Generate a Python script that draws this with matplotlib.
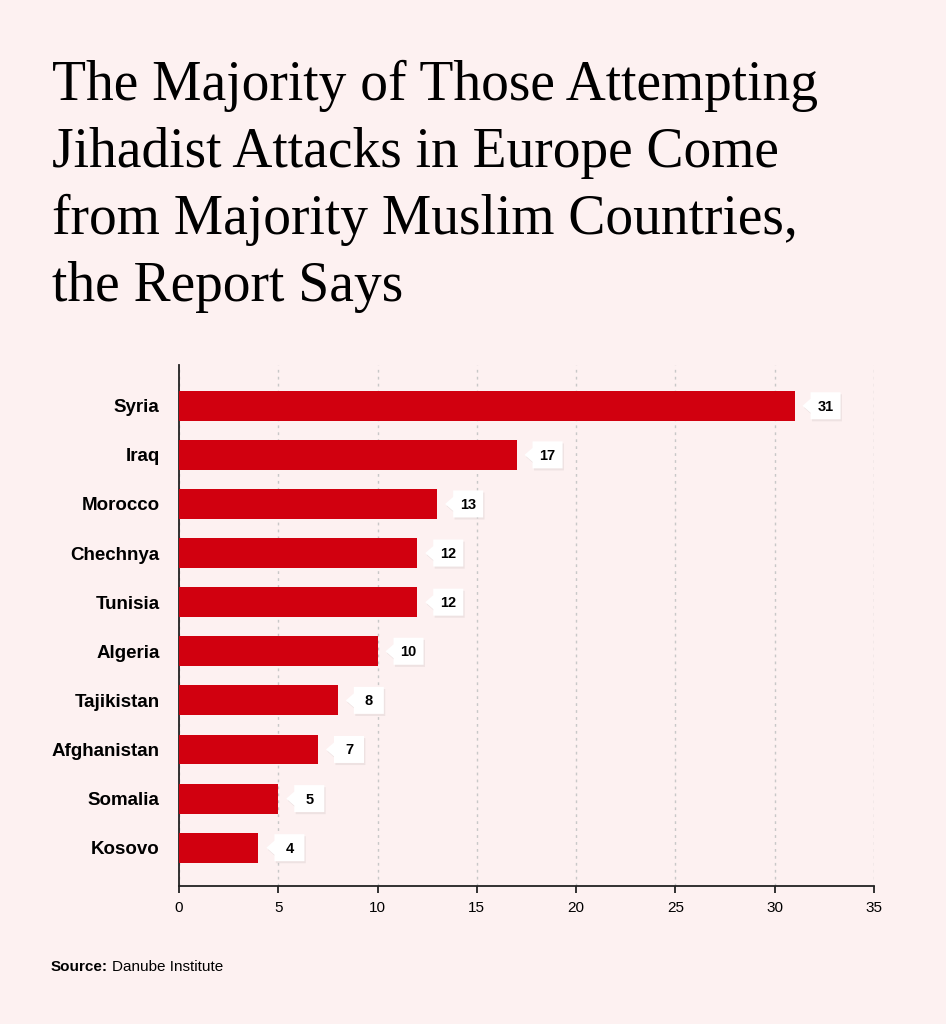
import matplotlib.pyplot as plt
from matplotlib.patches import Polygon
from matplotlib.offsetbox import AnnotationBbox, DrawingArea

countries = ['Syria', 'Iraq', 'Morocco', 'Chechnya', 'Tunisia', 'Algeria',
             'Tajikistan', 'Afghanistan', 'Somalia', 'Kosovo']
attackers = [31, 17, 13, 12, 12, 10, 8, 7, 5, 4]
xticks = [0, 5, 10, 15, 20, 25, 30, 35]

title = ('The Majority of Those Attempting\nJihadist Attacks in Europe Come\n'
         'from Majority Muslim Countries,\nthe Report Says')

bg = '#FDF1F1'
red = '#D1000F'

fig = plt.figure(figsize=(9.46, 10.24), dpi=100, facecolor=bg)
W, H = 946, 1024
ax = fig.add_axes([179 / W, 1 - 886 / H, (874 - 179) / W, (886 - 365) / H])
ax.set_facecolor(bg)

ypos = list(range(len(countries)))
ax.barh(ypos, attackers, height=0.61, color=red, zorder=3)

ax.set_xlim(0, 35)
ax.set_ylim(9.78, -0.83)
ax.set_xticks(xticks)
ax.set_xticklabels([str(t) for t in xticks], fontsize=11, family='Liberation Sans')
ax.set_yticks(ypos)
ax.set_yticklabels(countries, fontsize=13.5, fontweight='bold', family='Liberation Sans')
ax.tick_params(axis='y', length=0, pad=14)
ax.tick_params(axis='x', length=5, width=1.3, color='#222222', pad=6)
for s in ['top', 'right']:
    ax.spines[s].set_visible(False)
for s in ['left', 'bottom']:
    ax.spines[s].set_linewidth(1.3)
    ax.spines[s].set_color('#222222')
ax.grid(axis='x', linestyle=(0, (2, 3)), color='#c8c8c8', linewidth=1, zorder=0)

# value callouts: white box with small arrow pointing at the bar end
k = 72 / 100  # pixels -> points
bw, bh, tip = 30 * k, 27 * k, 8 * k
for y, v in zip(ypos, attackers):
    da = DrawingArea(bw + tip, bh, 0, 0)
    pts = [(0, bh / 2), (tip, bh / 2 + 7 * k), (tip, bh), (tip + bw, bh),
           (tip + bw, 0), (tip, 0), (tip, bh / 2 - 7 * k)]
    shadow = Polygon([(px + 1, py - 1.5) for px, py in pts], closed=True,
                     fc='#000000', alpha=0.06, ec='none')
    box = Polygon(pts, closed=True, fc='white', ec='none')
    da.add_artist(shadow)
    da.add_artist(box)
    ab = AnnotationBbox(da, (v, y), xybox=(8, 0), xycoords='data',
                        boxcoords='offset pixels', box_alignment=(0, 0.5),
                        frameon=False, pad=0, zorder=5)
    ax.add_artist(ab)
    ax.annotate(str(v), xy=(v, y), xytext=(8 + 8 + 15, -1), textcoords='offset pixels',
                ha='center', va='center', fontsize=10.5, fontweight='bold',
                family='Liberation Sans', zorder=6)

fig.text(52 / W, 1 - 60 / H, title, ha='left', va='top', fontsize=40,
         family='Liberation Serif', linespacing=1.37)

fig.text(51 / W, 1 - 967 / H, 'Source:', ha='left', va='center', fontsize=11,
         fontweight='bold', family='Liberation Sans')
fig.text(112 / W, 1 - 967 / H, 'Danube Institute', ha='left', va='center',
         fontsize=11, family='Liberation Sans')

fig.savefig('out.png', dpi=100, facecolor=bg)
